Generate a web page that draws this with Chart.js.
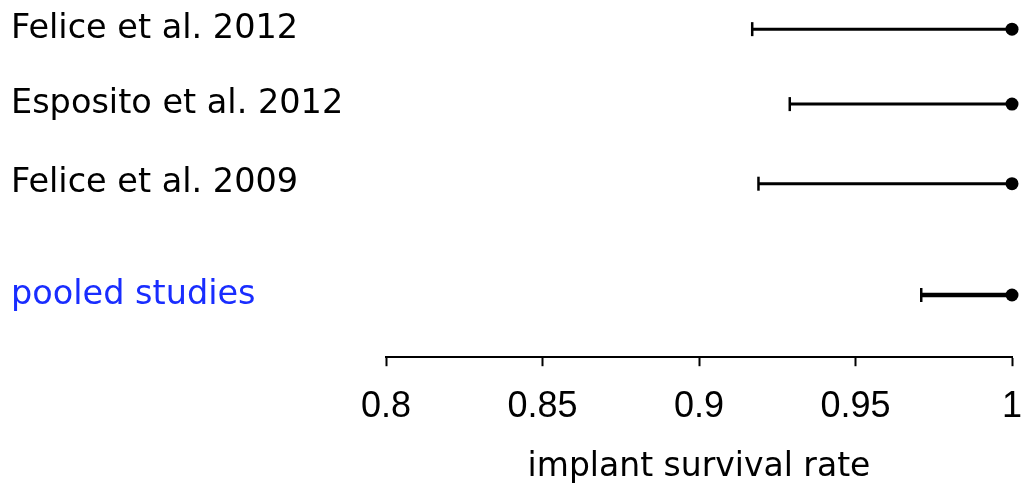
<!DOCTYPE html>
<html>
<head>
<meta charset="utf-8">
<script src="https://cdn.jsdelivr.net/npm/chart.js@4"></script>
<style>
  html, body { margin: 0; padding: 0; background: #fff; }
  #wrap { width: 1024px; height: 489px; }
</style>
</head>
<body>
<div id="wrap"><canvas id="forestChart"></canvas></div>
<script>
// study names, top to bottom
const studies = ['Felice et al. 2012', 'Esposito et al. 2012', 'Felice et al. 2009', 'pooled studies'];
// lower end of each interval and the point estimate (upper end)
const lower = [0.917, 0.929, 0.919, 0.971];
const estimate = [1, 1, 1, 1];
// row order (pooled row set apart a little)
const rows = [1, 1.97, 3, 4.44];
const xTickLabels = ['0.8', '0.85', '0.9', '0.95', '1'];

const labelFont = '"DejaVu Sans", sans-serif';
const tickFont = '"Liberation Sans", Arial, sans-serif';
const blue = 'rgb(25, 45, 255)';

var datasets = studies.map((name, i) => ({
    label: name,
    data: [{x: lower[i], y: rows[i]}, {x: estimate[i], y: rows[i]}],
    borderColor: '#000',
    backgroundColor: '#000',
    borderWidth: i === 3 ? 4.5 : 3,
    pointStyle: ['line', 'circle'],
    pointRotation: [90, 0],
    pointRadius: [7, 6.5],
    pointBorderWidth: [2.5, 0],
    pointBorderColor: '#000',
    pointBackgroundColor: '#000',
    clip: false
}));

var ctx = document.getElementById('forestChart').getContext('2d');
var forestChart = new Chart(ctx, {
    type: 'line',
    data: {datasets: datasets},
    options: {
        responsive: true,
        maintainAspectRatio: false,
        animation: false,
        layout: {padding: {left: 11, right: 0, top: 0, bottom: 2}},
        plugins: {legend: {display: false}, tooltip: {enabled: false}},
        scales: {
            x: {
                type: 'linear',
                min: 0.8,
                max: 1,
                afterFit: scale => { scale.paddingLeft = 0; scale.paddingRight = 12; },
                ticks: {
                    stepSize: 0.05,
                    color: '#000',
                    padding: 19,
                    font: {family: tickFont, size: 36},
                    callback: (v, i) => xTickLabels[i]
                },
                grid: {drawOnChartArea: false, tickLength: 9, tickWidth: 2, color: '#000'},
                border: {display: true, color: '#000', width: 2},
                title: {
                    display: true,
                    text: 'implant survival rate',
                    color: '#000',
                    font: {family: labelFont, size: 33},
                    padding: {top: 0, bottom: 0}
                }
            },
            y: {
                type: 'linear',
                reverse: true,
                min: 0.883,
                max: 5.245,
                afterBuildTicks: scale => { scale.ticks = rows.map(v => ({value: v})); },
                afterFit: scale => { scale.width = 375; },
                ticks: {
                    crossAlign: 'far',
                    padding: 0,
                    font: {family: labelFont, size: 33.5},
                    color: c => c.index === 3 ? blue : '#000',
                    callback: (v, i) => studies[i]
                },
                grid: {display: false},
                border: {display: false}
            }
        }
    }
});
</script>
</body>
</html>
